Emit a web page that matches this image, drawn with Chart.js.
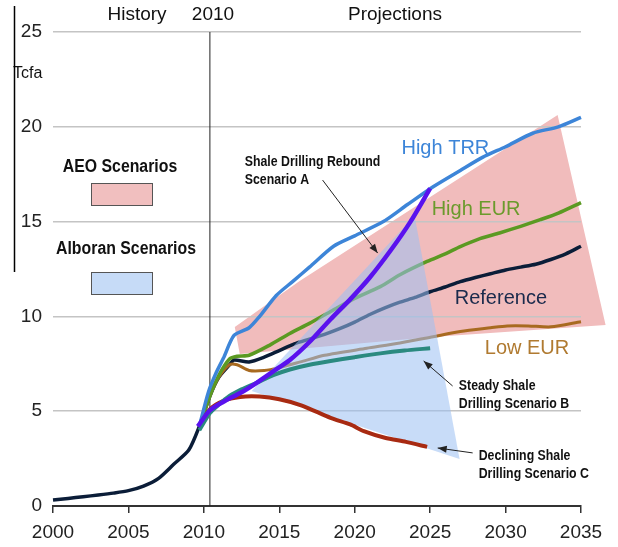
<!DOCTYPE html>
<html>
<head>
<meta charset="utf-8">
<script src="https://cdn.jsdelivr.net/npm/chart.js@4.4.1/dist/chart.umd.min.js"></script>
<style>
body { margin: 0; background: #fff; }
#chart { display: block; }
</style>
</head>
<body>
<canvas id="chart" width="618" height="547"></canvas>
<script>
// values (Tcfa per year)
const refYears = [2000, 2001, 2002, 2003, 2004, 2005, 2006, 2007, 2008, 2009, 2009.7, 2010.4, 2011, 2011.7, 2012, 2013, 2014, 2015, 2016, 2017, 2018, 2019, 2020, 2021, 2022, 2023, 2024, 2025, 2026, 2027, 2028, 2029, 2030, 2031, 2032, 2033, 2034, 2035];
const refValues = [0.32, 0.4, 0.49, 0.58, 0.68, 0.81, 1.05, 1.46, 2.2, 2.95, 4.2, 5.8, 6.8, 7.45, 7.7, 7.6, 7.85, 8.2, 8.55, 8.8, 9.05, 9.35, 9.7, 10.1, 10.45, 10.75, 11.0, 11.3, 11.55, 11.83, 12.05, 12.25, 12.45, 12.6, 12.75, 13.0, 13.3, 13.7];

const trrYears = [2009.7, 2010.3, 2010.8, 2011.3, 2012, 2013, 2013.7, 2014.8, 2015.9, 2017, 2018.6, 2020, 2021.9, 2023.5, 2025.2, 2027, 2028.5, 2030, 2031.8, 2033.5, 2035];
const trrValues = [4.2, 6.0, 7.0, 7.8, 9.0, 9.4, 10.0, 11.1, 11.85, 12.6, 13.7, 14.25, 15.0, 15.9, 16.84, 17.7, 18.4, 18.95, 19.66, 20.0, 20.5];

const highEurYears = [2009.7, 2010.4, 2011, 2011.7, 2012.2, 2013, 2014.4, 2015.7, 2017, 2018.5, 2020, 2021.7, 2023, 2024.8, 2026, 2027, 2028.3, 2029.6, 2031, 2032.3, 2033.5, 2035];
const highEurValues = [4.2, 5.8, 6.9, 7.75, 7.9, 7.95, 8.5, 9.1, 9.63, 10.3, 10.95, 11.57, 12.2, 12.9, 13.3, 13.68, 14.1, 14.4, 14.75, 15.1, 15.45, 16.0];

const lowEurYears = [2009.7, 2010.4, 2011, 2011.7, 2012.2, 2013, 2014, 2015, 2016.4, 2018, 2020.8, 2023, 2025.2, 2027, 2029, 2030.1, 2031.5, 2033, 2035];
const lowEurValues = [4.2, 5.8, 6.8, 7.45, 7.45, 7.15, 7.15, 7.3, 7.6, 7.95, 8.32, 8.6, 8.93, 9.2, 9.4, 9.5, 9.5, 9.45, 9.72];

const scenAYears = [2009.6, 2010.4, 2011.3, 2012.5, 2013.5, 2014.6, 2015.7, 2017, 2018.4, 2019.7, 2021, 2022.4, 2023.7, 2025];
const scenAValues = [4.2, 5.05, 5.5, 6.0, 6.5, 7.1, 7.7, 8.65, 9.85, 10.9, 12.05, 13.5, 15.0, 16.75];

const scenBYears = [2009.7, 2010.4, 2011, 2011.7, 2012.5, 2013.5, 2014.6, 2015.7, 2017, 2018.4, 2020, 2021.7, 2023.3, 2025];
const scenBValues = [4.0, 4.9, 5.35, 5.8, 6.15, 6.5, 6.9, 7.2, 7.45, 7.65, 7.85, 8.05, 8.2, 8.32];

const scenCYears = [2009.7, 2010.4, 2011.3, 2012.4, 2013.7, 2015, 2016.5, 2018.4, 2019.7, 2020.6, 2022, 2023.4, 2024.8];
const scenCValues = [4.2, 5.1, 5.55, 5.75, 5.77, 5.63, 5.3, 4.65, 4.3, 3.95, 3.6, 3.38, 3.12];

// shaded scenario ranges (corner points)
const aeoRangeYears = [2012.05, 2016.35, 2033.45, 2036.63, 2025.17, 2012.38];
const aeoRangeValues = [9.44, 11.87, 20.62, 9.55, 8.91, 8.02];
const alboranRangeYears = [2013.17, 2023.97, 2026.95];
const alboranRangeValues = [6.07, 15.3, 2.48];

const yTicks = [0, 5, 10, 15, 20, 25];
const xTicks = [2000, 2005, 2010, 2015, 2020, 2025, 2030, 2035];
const splitYear = 2010.4;

const SANS = "'Liberation Sans', Arial, sans-serif";

const seriesLabels = [
    { text: 'High TRR', x: 2023.1, y: 18.88, color: '#3d85d8' },
    { text: 'High EUR', x: 2025.1, y: 15.66, color: '#6b9a2c' },
    { text: 'Reference', x: 2026.63, y: 10.97, color: '#1a2a4c' },
    { text: 'Low EUR', x: 2028.62, y: 8.33, color: '#b07a30' }
];
const notes = [
    { lines: ['Shale Drilling Rebound', 'Scenario A'], x: 2012.71, y: 18.14 },
    { lines: ['Steady Shale', 'Drilling Scenario B'], x: 2026.9, y: 6.33 },
    { lines: ['Declining Shale', 'Drilling Scenario C'], x: 2028.22, y: 2.64 }
];
const arrows = [
    [2017.87, 17.19, 2021.52, 13.34],
    [2026.49, 6.33, 2024.57, 7.65],
    [2027.82, 2.80, 2025.5, 3.06]
];

function pts(xs, ys) {
    return xs.map((x, i) => ({ x: x, y: ys[i] }));
}

function line(label, xs, ys, color, width, alboran) {
    return {
        label: label,
        data: pts(xs, ys),
        borderColor: color,
        backgroundColor: color,
        borderWidth: width,
        pointRadius: 0,
        tension: 0.25,
        fill: false,
        clip: false,
        order: alboran ? 1 : 2,
        alboran: alboran
    };
}

function polygon(chart, xs, ys, color) {
    const ctx = chart.ctx;
    const sx = chart.scales.x, sy = chart.scales.y;
    ctx.save();
    ctx.beginPath();
    xs.forEach((x, i) => {
        const a = sx.getPixelForValue(x), b = sy.getPixelForValue(ys[i]);
        if (i === 0) ctx.moveTo(a, b); else ctx.lineTo(a, b);
    });
    ctx.closePath();
    ctx.fillStyle = color;
    ctx.fill();
    ctx.restore();
}

// no narrow font installed, so squeeze the bold labels a little
function narrowText(ctx, text, x, y, squeeze) {
    ctx.save();
    ctx.translate(x, y);
    ctx.scale(squeeze, 1);
    ctx.fillText(text, 0, 0);
    ctx.restore();
}

function drawArrow(ctx, x1, y1, x2, y2) {
    ctx.beginPath();
    ctx.moveTo(x1, y1);
    ctx.lineTo(x2, y2);
    ctx.stroke();
    const ang = Math.atan2(y2 - y1, x2 - x1);
    const len = 9, w = 3.5;
    ctx.beginPath();
    ctx.moveTo(x2, y2);
    ctx.lineTo(x2 - len * Math.cos(ang) + w * Math.sin(ang), y2 - len * Math.sin(ang) - w * Math.cos(ang));
    ctx.lineTo(x2 - len * Math.cos(ang) - w * Math.sin(ang), y2 - len * Math.sin(ang) + w * Math.cos(ang));
    ctx.closePath();
    ctx.fill();
}

let blueDone = false;
const decor = {
    id: 'decor',
    beforeDraw(chart) {
        polygon(chart, aeoRangeYears, aeoRangeValues, '#f1bcbc');
    },
    beforeDatasetsDraw(chart) {
        blueDone = false;
        const ctx = chart.ctx;
        const x = chart.scales.x.getPixelForValue(splitYear);
        ctx.save();
        ctx.strokeStyle = '#222';
        ctx.lineWidth = 1;
        ctx.beginPath();
        ctx.moveTo(x, chart.chartArea.top);
        ctx.lineTo(x, chart.chartArea.bottom);
        ctx.stroke();
        ctx.restore();
    },
    beforeDatasetDraw(chart, args) {
        if (!blueDone && chart.data.datasets[args.index].alboran) {
            polygon(chart, alboranRangeYears, alboranRangeValues, 'rgba(155,191,242,0.55)');
            blueDone = true;
        }
    },
    afterDraw(chart) {
        const ctx = chart.ctx;
        const sx = chart.scales.x, sy = chart.scales.y;
        ctx.save();
        ctx.textBaseline = 'middle';

        // headings above the plot
        ctx.fillStyle = '#111';
        ctx.font = '19px ' + SANS;
        ctx.textAlign = 'center';
        ctx.fillText('History', 137, 15);
        ctx.fillText('2010', 213, 15);
        ctx.fillText('Projections', 395, 15);
        ctx.font = '16px ' + SANS;
        ctx.textAlign = 'left';
        ctx.fillText('Tcfa', 13, 74);

        // left frame fragment
        ctx.strokeStyle = '#000';
        ctx.lineWidth = 1.5;
        ctx.beginPath();
        ctx.moveTo(14.5, 6);
        ctx.lineTo(14.5, 272);
        ctx.stroke();

        // legend
        ctx.font = 'bold 18px ' + SANS;
        ctx.textAlign = 'center';
        ctx.fillStyle = '#111';
        narrowText(ctx, 'AEO Scenarios', 120, 167, 0.88);
        narrowText(ctx, 'Alboran Scenarios', 126, 249, 0.88);
        ctx.lineWidth = 1;
        ctx.strokeStyle = '#555';
        ctx.fillStyle = '#f1bfbf';
        ctx.fillRect(91, 183, 62, 23);
        ctx.strokeRect(91.5, 183.5, 61, 22);
        ctx.fillStyle = '#c6dbf7';
        ctx.fillRect(91, 272, 62, 23);
        ctx.strokeRect(91.5, 272.5, 61, 22);

        // series names
        ctx.textAlign = 'left';
        ctx.font = '20px ' + SANS;
        seriesLabels.forEach(l => {
            ctx.fillStyle = l.color;
            ctx.fillText(l.text, sx.getPixelForValue(l.x), sy.getPixelForValue(l.y));
        });

        // scenario notes and arrows
        ctx.font = 'bold 14px ' + SANS;
        ctx.fillStyle = '#111';
        notes.forEach(n => {
            const x = sx.getPixelForValue(n.x), y = sy.getPixelForValue(n.y);
            n.lines.forEach((t, i) => narrowText(ctx, t, x, y + i * 18, 0.88));
        });
        ctx.strokeStyle = '#222';
        ctx.fillStyle = '#222';
        ctx.lineWidth = 1;
        arrows.forEach(a => drawArrow(ctx,
            sx.getPixelForValue(a[0]), sy.getPixelForValue(a[1]),
            sx.getPixelForValue(a[2]), sy.getPixelForValue(a[3])));
        ctx.restore();
    }
};

const ctx = document.getElementById('chart').getContext('2d');
const myChart = new Chart(ctx, {
    type: 'line',
    data: {
        datasets: [
            line('Shale Drilling Rebound Scenario A', scenAYears, scenAValues, '#5a12ee', 4.5, true),
            line('Steady Shale Drilling Scenario B', scenBYears, scenBValues, '#2b8a80', 4, true),
            line('Declining Shale Drilling Scenario C', scenCYears, scenCValues, '#a82a12', 4, true),
            line('High TRR', trrYears, trrValues, '#3d85d8', 3.5, false),
            line('High EUR', highEurYears, highEurValues, '#5b9a22', 3.5, false),
            line('Low EUR', lowEurYears, lowEurValues, '#a86a20', 3, false),
            line('Reference', refYears, refValues, '#0b1d38', 3.5, false)
        ]
    },
    options: {
        responsive: false,
        animation: false,
        layout: { padding: { top: 32, right: 37, left: 0, bottom: 0 } },
        plugins: {
            legend: { display: false },
            tooltip: { enabled: false }
        },
        scales: {
            x: {
                type: 'linear',
                min: 2000,
                max: 2035,
                afterFit: s => { s.height = 41; },
                afterBuildTicks: s => { s.ticks = xTicks.map(v => ({ value: v })); },
                grid: { drawOnChartArea: false, drawTicks: true, tickLength: 7, color: '#333', lineWidth: 1.5 },
                border: { display: true, color: '#333', width: 2 },
                ticks: { color: '#222', padding: 8, font: { size: 19, family: SANS }, callback: v => String(v) }
            },
            y: {
                min: 0,
                max: 25,
                afterFit: s => { s.width = 53; },
                afterBuildTicks: s => { s.ticks = yTicks.map(v => ({ value: v })); },
                grid: { color: c => c.tick && c.tick.value === 0 ? 'rgba(0,0,0,0)' : '#c4c4c4', lineWidth: 1.5, drawTicks: false },
                border: { display: false },
                ticks: { color: '#222', padding: 11, font: { size: 19, family: SANS } }
            }
        }
    },
    plugins: [decor]
});
</script>
</body>
</html>
